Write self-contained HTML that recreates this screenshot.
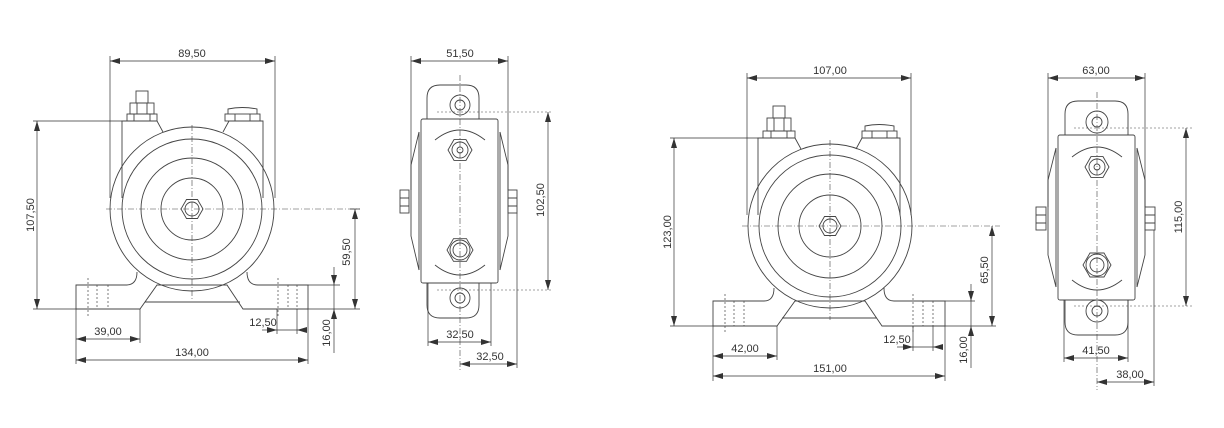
<!DOCTYPE html>
<html><head><meta charset="utf-8"><style>
html,body{margin:0;padding:0;background:#fff;}
svg{display:block;}
text{font-family:"Liberation Sans",sans-serif;font-size:11px;fill:#333;}
</style></head><body>
<svg width="1224" height="428" viewBox="0 0 1224 428" xmlns="http://www.w3.org/2000/svg">
<defs>
<marker id="a" viewBox="0 0 10 6" refX="10" refY="3" markerWidth="10" markerHeight="6" orient="auto-start-reverse" markerUnits="userSpaceOnUse"><path d="M0,0 L10,3 L0,6z" fill="#333"/></marker>
</defs>
<g fill="none" stroke="#444" stroke-width="0.9">

<g>
<path d="M122,198 V121 H157 L163,132"/>
<path d="M263,198 V121 H229 L223,132"/>
<circle cx="192" cy="209" r="82"/>
<circle cx="192" cy="209" r="70"/>
<circle cx="192" cy="209" r="51"/>
<circle cx="192" cy="209" r="31"/>
<polygon points="203,209 197.5,218.5 186.5,218.5 181,209 186.5,199.5 197.5,199.5"/>
<circle cx="192" cy="209" r="7"/>
<path d="M76,309 V285 H126 Q137,285 137,272"/>
<path d="M308,309 V285 H258 Q247,285 247,272"/>
<path d="M76,309 H140 L157,285 H227 L243,309 H308"/>
<path d="M145,302 H240"/>
<g stroke-dasharray="2,2" stroke-width="0.7"><path d="M88,278 V316 M97,285 V309 M108,285 V309 M278,278 V316 M288,285 V309 M297,285 V309"/></g>
<rect x="127" y="114" width="30" height="7"/><rect x="130" y="103" width="24" height="11"/><rect x="136" y="91" width="12" height="12"/>
<path d="M134,114 V121 M150,114 V121 M137,103 V114 M147,103 V114"/>
<rect x="225" y="114" width="35" height="7"/><path d="M228,114 V109 Q242,106 257,109 V114 M235,114 V121 M250,114 V121"/>
<g stroke-dasharray="6,2,1,2" stroke-width="0.6"><path d="M106,209 H360 M192,125 V300"/></g>
</g>

<g>
<path d="M427,119 V98 Q427,85 440,85 H466 Q479,85 479,98 V119"/>
<path d="M427,283 V305 Q427,318 440,318 H466 Q479,318 479,305 V283"/>
<circle cx="460" cy="105" r="10"/><circle cx="460" cy="105" r="5"/>
<circle cx="460" cy="298" r="10"/><circle cx="460" cy="298" r="5"/>
<rect x="421" y="119" width="77" height="164" rx="2"/>
<path d="M419,132 L411,165 V236 L419,270 M500,132 L508,165 V236 L500,270"/>
<path d="M419,132 V270 M500,132 V270"/>
<rect x="400" y="190" width="9" height="23"/><path d="M400,198 H409 M400,206 H409"/>
<rect x="508" y="190" width="9" height="23"/><path d="M508,198 H517 M508,206 H517"/>
<polygon points="472,150 466,160.4 454,160.4 448,150 454,139.6 466,139.6"/>
<circle cx="460" cy="150" r="8"/><circle cx="460" cy="150" r="3"/>
<path d="M435,140 Q460,120 485,140"/>
<polygon points="473,250 466.5,261.3 453.5,261.3 447,250 453.5,238.7 466.5,238.7"/>
<circle cx="460" cy="250" r="10"/><circle cx="460" cy="250" r="7"/>
<path d="M435,265 Q460,285 485,265"/>
<g stroke-dasharray="6,2,1,2" stroke-width="0.6"><path d="M460,75 V372"/></g>
<g stroke-dasharray="2,2" stroke-width="0.6"><path d="M437,112 H553 M437,290 H553"/></g>
</g>

<g>
<path d="M758,215 V138 H795 L801,149"/>
<path d="M900,215 V138 H862 L856,149"/>
<circle cx="830" cy="226" r="82"/>
<circle cx="830" cy="226" r="71"/>
<circle cx="830" cy="226" r="52"/>
<circle cx="830" cy="226" r="31"/>
<polygon points="841,226 835.5,235.5 824.5,235.5 819,226 824.5,216.5 835.5,216.5"/>
<circle cx="830" cy="226" r="7"/>
<path d="M713,326 V301 H764 Q774,301 774,288"/>
<path d="M945,326 V301 H894 Q884,301 884,288"/>
<path d="M713,326 H777 L795,301 H865 L882,326 H945"/>
<path d="M782,318 H877"/>
<g stroke-dasharray="2,2" stroke-width="0.7"><path d="M725,294 V333 M734,301 V326 M744,301 V326 M913,294 V333 M923,301 V326 M933,301 V326"/></g>
<rect x="763" y="131" width="32" height="7"/><rect x="767" y="118" width="24" height="13"/><rect x="773" y="106" width="12" height="12"/>
<path d="M771,131 V138 M787,131 V138 M774,118 V131 M784,118 V131"/>
<rect x="862" y="131" width="35" height="7"/><path d="M865,131 V126 Q879,123 894,126 V131 M872,131 V138 M887,131 V138"/>
<g stroke-dasharray="6,2,1,2" stroke-width="0.6"><path d="M742,226 H1000 M830,140 V320"/></g>
</g>

<g>
<path d="M1065,135 V114 Q1065,101 1078,101 H1115 Q1128,101 1128,114 V135"/>
<path d="M1065,300 V322 Q1065,335 1078,335 H1115 Q1128,335 1128,322 V300"/>
<circle cx="1097" cy="122" r="11"/><circle cx="1097" cy="122" r="5"/>
<circle cx="1097" cy="311" r="11"/><circle cx="1097" cy="311" r="5"/>
<rect x="1058" y="135" width="77" height="165" rx="2"/>
<path d="M1056,148 L1048,180 V255 L1056,287 M1137,148 L1145,180 V255 L1137,287"/>
<path d="M1056,148 V287 M1137,148 V287"/>
<rect x="1036" y="207" width="10" height="23"/><path d="M1036,215 H1046 M1036,223 H1046"/>
<rect x="1145" y="207" width="10" height="23"/><path d="M1145,215 H1155 M1145,223 H1155"/>
<polygon points="1109,167 1103,177.4 1091,177.4 1085,167 1091,156.6 1103,156.6"/>
<circle cx="1097" cy="167" r="8"/><circle cx="1097" cy="167" r="3"/>
<path d="M1072,157 Q1097,137 1122,157"/>
<polygon points="1111,265 1104,277 1090,277 1083,265 1090,253 1104,253"/>
<circle cx="1097" cy="265" r="11"/><circle cx="1097" cy="265" r="7"/>
<path d="M1072,280 Q1097,300 1122,280"/>
<g stroke-dasharray="6,2,1,2" stroke-width="0.6"><path d="M1097,92 V390"/></g>
<g stroke-dasharray="2,2" stroke-width="0.6"><path d="M1074,128 H1192 M1074,306 H1192"/></g>
</g>
</g>

<g stroke="#333" stroke-width="0.7" fill="none">
<path d="M110,56 V198 M275,56 V198"/>
<path d="M110,61 H275" marker-start="url(#a)" marker-end="url(#a)"/>
<path d="M33,121 H122 M33,309 H76"/>
<path d="M37,121 V309" marker-start="url(#a)" marker-end="url(#a)"/>
<path d="M360,209 H350 M308,309 H360 M308,285 H340"/>
<path d="M355,209 V309" marker-start="url(#a)" marker-end="url(#a)"/>
<path d="M334,267 V285" marker-end="url(#a)"/><path d="M334,353 V309" marker-end="url(#a)"/><path d="M334,285 V309"/>
<path d="M277,309 V334 M297,309 V334 M140,309 V343 M76,309 V364 M308,309 V364"/>
<path d="M262,330 H277" marker-end="url(#a)"/><path d="M297,330 H277"/><path d="M303,330 H297" marker-end="url(#a)"/>
<path d="M76,339 H140" marker-start="url(#a)" marker-end="url(#a)"/>
<path d="M76,360 H308" marker-start="url(#a)" marker-end="url(#a)"/>
<path d="M411,56 V190 M508,56 V190"/>
<path d="M411,61 H508" marker-start="url(#a)" marker-end="url(#a)"/>
<path d="M548,112 V290" marker-start="url(#a)" marker-end="url(#a)"/>
<path d="M428,283 V346 M491,283 V346 M517,213 V368"/>
<path d="M428,342 H491" marker-start="url(#a)" marker-end="url(#a)"/>
<path d="M460,364 H517" marker-start="url(#a)" marker-end="url(#a)"/>
<path d="M747,73 V215 M911,73 V215"/>
<path d="M747,78 H911" marker-start="url(#a)" marker-end="url(#a)"/>
<path d="M670,138 H758 M670,326 H713"/>
<path d="M674,138 V326" marker-start="url(#a)" marker-end="url(#a)"/>
<path d="M945,326 H996 M945,301 H975"/>
<path d="M992,226 V326" marker-start="url(#a)" marker-end="url(#a)"/>
<path d="M971,284 V301" marker-end="url(#a)"/><path d="M971,368 V326" marker-end="url(#a)"/><path d="M971,301 V326"/>
<path d="M913,326 V351 M933,326 V351 M777,326 V360 M713,326 V381 M945,326 V381"/>
<path d="M897,347 H913" marker-end="url(#a)"/><path d="M913,347 H933"/><path d="M943,347 H933" marker-end="url(#a)"/>
<path d="M713,356 H777" marker-start="url(#a)" marker-end="url(#a)"/>
<path d="M713,376 H945" marker-start="url(#a)" marker-end="url(#a)"/>
<path d="M1048,73 V207 M1145,73 V207"/>
<path d="M1048,78 H1145" marker-start="url(#a)" marker-end="url(#a)"/>
<path d="M1186,128 V306" marker-start="url(#a)" marker-end="url(#a)"/>
<path d="M1064,300 V362 M1128,300 V362 M1154,230 V386"/>
<path d="M1064,358 H1128" marker-start="url(#a)" marker-end="url(#a)"/>
<path d="M1097,382 H1154" marker-start="url(#a)" marker-end="url(#a)"/>
</g>

<g text-anchor="middle">
<text x="192" y="57">89,50</text>
<text transform="translate(34,215) rotate(-90)">107,50</text>
<text transform="translate(350,252) rotate(-90)">59,50</text>
<text transform="translate(330,333) rotate(-90)">16,00</text>
<text x="263" y="326">12,50</text>
<text x="108" y="335">39,00</text>
<text x="192" y="356">134,00</text>
<text x="460" y="57">51,50</text>
<text transform="translate(544,200) rotate(-90)">102,50</text>
<text x="460" y="338">32,50</text>
<text x="490" y="360">32,50</text>
<text x="830" y="74">107,00</text>
<text transform="translate(671,232) rotate(-90)">123,00</text>
<text transform="translate(988,270) rotate(-90)">65,50</text>
<text transform="translate(967,350) rotate(-90)">16,00</text>
<text x="897" y="343">12,50</text>
<text x="745" y="352">42,00</text>
<text x="830" y="372">151,00</text>
<text x="1096" y="74">63,00</text>
<text transform="translate(1182,217) rotate(-90)">115,00</text>
<text x="1096" y="354">41,50</text>
<text x="1130" y="378">38,00</text>
</g>
</svg>
</body></html>
